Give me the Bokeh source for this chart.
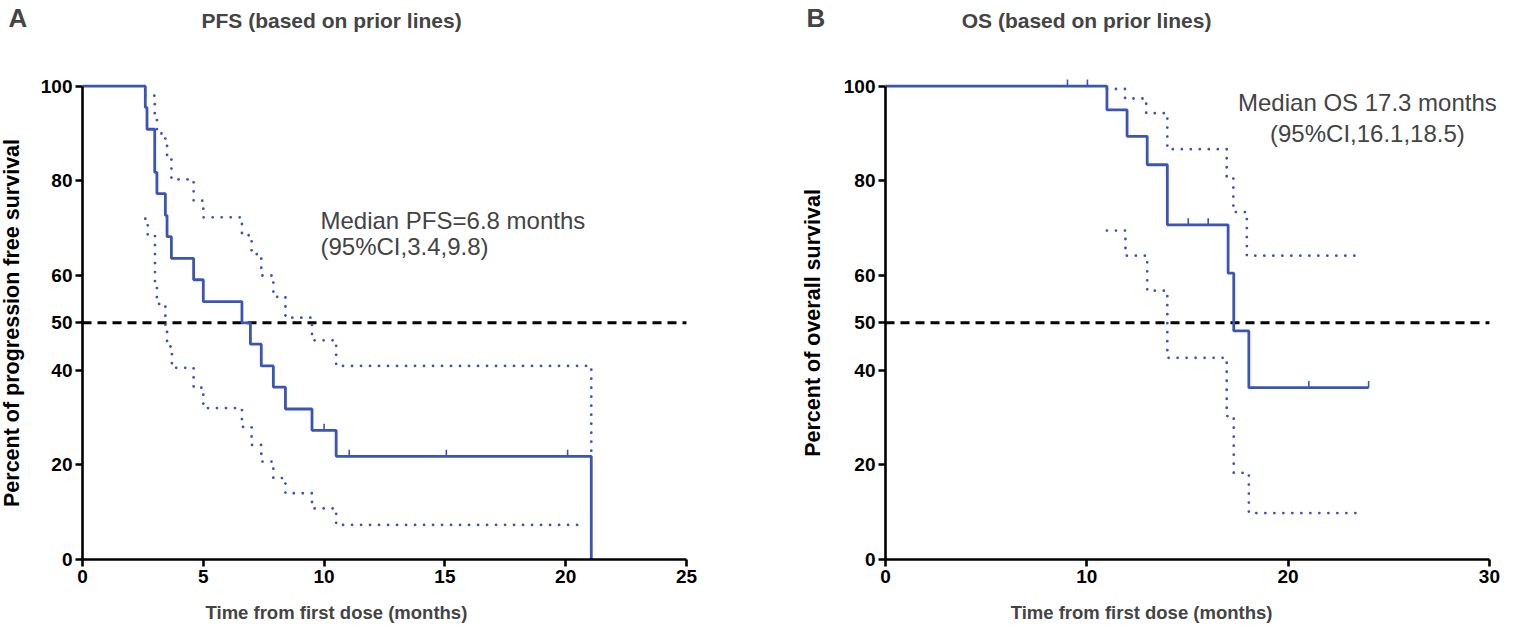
from bokeh.plotting import figure
from bokeh.layouts import row
from bokeh.models import Range1d, FixedTicker, Label
from bokeh.embed import file_html
from bokeh.resources import INLINE

BLUE = "#3b55b5"
FONT = "Liberation Sans"

# ---------------- Panel A : PFS ----------------
pfs_t = [0, 2.60, 2.67, 2.99, 3.08, 3.43, 3.50, 3.68, 4.60, 5.00, 6.60, 6.95, 7.40, 7.90, 8.40, 9.50, 10.50, 21.06]
pfs_s = [100, 95.5, 90.9, 81.8, 77.3, 72.7, 68.2, 63.6, 59.1, 54.5, 50.0, 45.5, 40.9, 36.4, 31.8, 27.3, 21.8, 0]
pfs_cens_t = [10.0, 11.04, 15.06, 20.08]
pfs_cens_s = [27.3, 21.8, 21.8, 21.8]
pfs_up_t = [2.60, 2.99, 3.08, 3.43, 3.50, 3.68, 4.60, 5.00, 6.60, 7.00, 7.40, 7.90, 8.40, 9.50, 10.50, 21.06]
pfs_up_s = [98.0, 93.0, 90.0, 87.5, 85.0, 80.3, 75.8, 72.3, 68.5, 64.5, 60.0, 55.5, 51.1, 46.3, 40.9, 21.8]
pfs_lo_t = [2.60, 2.70, 3.00, 3.08, 3.43, 3.50, 3.70, 4.60, 5.00, 6.60, 7.00, 7.40, 7.90, 8.40, 9.50, 10.50, 20.80]
pfs_lo_s = [72.0, 68.5, 58.5, 54.0, 49.5, 45.0, 40.5, 36.3, 32.0, 28.0, 24.2, 20.7, 17.2, 14.0, 10.8, 7.3, 7.3]
pfs_xticks = [0, 5, 10, 15, 20, 25]

# ---------------- Panel B : OS ----------------
os_t = [0, 11.0, 12.0, 13.0, 14.0, 17.02, 17.30, 18.05, 24.0]
os_s = [100, 95.0, 89.4, 83.4, 70.7, 60.5, 48.3, 36.3, 36.3]
os_cens_t = [9.04, 10.03, 15.04, 16.03, 21.03, 24.0]
os_cens_s = [100, 100, 70.7, 70.7, 36.3, 36.3]
os_up_t = [11.0, 11.9, 12.95, 14.0, 16.95, 17.28, 17.95, 23.7]
os_up_s = [99.4, 97.4, 94.3, 86.7, 80.8, 73.4, 64.2, 64.2]
os_lo_t = [11.0, 11.92, 13.0, 14.0, 16.95, 17.3, 18.05, 23.7]
os_lo_s = [69.5, 64.2, 56.8, 42.6, 30.3, 18.3, 9.8, 9.8]
os_xticks = [0, 10, 20, 30]

yticks = [0, 20, 40, 50, 60, 80, 100]
median_level = 50


def make_panel(xr, yr, xticks, width, t, s, ct, cs, ut, us, lt, ls,
               ylabel, ylab_standoff, letter, letter_x, title, title_x,
               xlabel, xlabel_x, notes, note_x, note_ys, note_align):
    p = figure(width=width, height=631, output_backend="svg", toolbar_location=None,
               x_range=Range1d(*xr), y_range=Range1d(*yr),
               min_border_left=0, min_border_right=0, min_border_top=0,
               min_border_bottom=0)
    p.outline_line_color = None
    p.xgrid.visible = False
    p.ygrid.visible = False
    p.background_fill_color = "white"
    p.border_fill_color = "white"

    for ax in (p.xaxis[0], p.yaxis[0]):
        ax.fixed_location = 0
        ax.axis_line_width = 2.6
        ax.axis_line_color = "black"
        ax.major_tick_line_width = 2.6
        ax.major_tick_out = 7
        ax.major_tick_in = 0
        ax.minor_tick_line_color = None
        ax.major_label_text_font = FONT
        ax.major_label_text_font_size = "19px"
        ax.major_label_text_font_style = "bold"
        ax.major_label_text_color = "black"
        ax.major_label_standoff = 3
    p.xaxis.ticker = FixedTicker(ticks=xticks)
    p.yaxis.ticker = FixedTicker(ticks=yticks)
    p.xaxis.bounds = (xticks[0], xticks[-1])
    p.yaxis.bounds = (yticks[0], yticks[-1])
    p.yaxis.axis_label = ylabel
    p.yaxis.axis_label_text_font = FONT
    p.yaxis.axis_label_text_font_size = "21.5px"
    p.yaxis.axis_label_text_font_style = "bold"
    p.yaxis.axis_label_text_color = "black"
    p.yaxis.axis_label_standoff = ylab_standoff

    p.line([xticks[0], xticks[-1]], [median_level, median_level], line_color="black",
           line_width=3, line_dash="9 6")

    p.step(ut, us, mode="after", line_color=BLUE, line_width=2.8,
           line_dash="0 9", line_cap="round")
    p.step(lt, ls, mode="after", line_color=BLUE, line_width=2.8,
           line_dash="0 9", line_cap="round")
    p.step(t, s, mode="after", line_color=BLUE, line_width=2.8)
    p.segment(x0=ct, y0=cs, x1=ct, y1=[v + 1.4 for v in cs],
              line_color=BLUE, line_width=1.6)

    p.add_layout(Label(x=letter_x, y=114.3, text=letter, text_font=FONT,
                       text_font_size="26px", text_font_style="bold",
                       text_baseline="middle", text_align="left"))
    p.add_layout(Label(x=title_x, y=113.9, text=title, text_font=FONT,
                       text_font_size="21px", text_font_style="bold",
                       text_baseline="middle", text_align="center"))
    p.add_layout(Label(x=xlabel_x, y=-11.2, text=xlabel, text_font=FONT,
                       text_font_size="18.5px", text_font_style="bold",
                       text_baseline="middle", text_align="center"))
    for txt, yy in zip(notes, note_ys):
        p.add_layout(Label(x=note_x, y=yy, text=txt, text_font=FONT,
                           text_font_size="24px", text_baseline="middle",
                           text_align=note_align))
    return p


Y_RANGE = (-15.21, 118.1)

pA = make_panel((-3.394, 29.72), Y_RANGE, pfs_xticks, 800,
                pfs_t, pfs_s, pfs_cens_t, pfs_cens_s,
                pfs_up_t, pfs_up_s, pfs_lo_t, pfs_lo_s,
                "Percent of progression free survival", 14, "A", -3.063,
                "PFS (based on prior lines)", 10.31,
                "Time from first dose (months)", 10.51,
                ["Median PFS=6.8 months", "(95%CI,3.4,9.8)"], 9.85, [71.6, 66.1], "left")

pB = make_panel((-4.223, 32.29), Y_RANGE, os_xticks, 735,
                os_t, os_s, os_cens_t, os_cens_s,
                os_up_t, os_up_s, os_lo_t, os_lo_s,
                "Percent of overall survival", 16, "B", -3.92,
                "OS (based on prior lines)", 9.99,
                "Time from first dose (months)", 12.72,
                ["Median OS 17.3 months", "(95%CI,16.1,18.5)"], 23.94, [96.55, 90.0], "center")

layout = row(pA, pB)
open("out.html", "w").write(file_html(layout, INLINE))
